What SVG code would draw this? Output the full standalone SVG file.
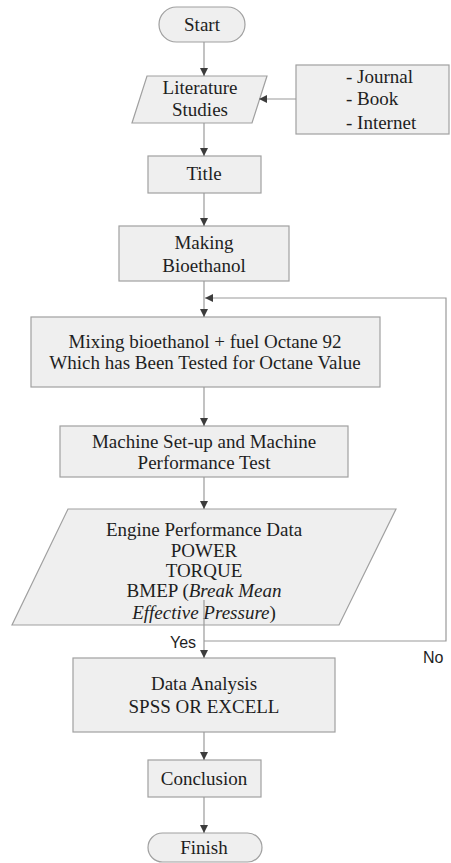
<svg xmlns="http://www.w3.org/2000/svg" width="451" height="863" viewBox="0 0 451 863">
<defs>
<style>
.n{fill:#efefef;stroke:#a0a0a0;stroke-width:1.2}
.t{font-family:"Liberation Serif","Times New Roman",serif;font-size:19px;fill:#1e1e1e;text-anchor:middle}
.l{font-family:"Liberation Sans",Arial,sans-serif;font-size:16px;fill:#1e1e1e}
.c{fill:none;stroke:#9a9a9a;stroke-width:1.2}
</style>
<marker id="ah" viewBox="0 0 10 10" refX="10" refY="5" markerWidth="8" markerHeight="8" markerUnits="userSpaceOnUse" orient="auto">
<path d="M0,0 L10,5 L0,10 Z" fill="#3c3c3c"/>
</marker>
</defs>
<rect width="451" height="863" fill="#ffffff"/>
<g id="start"><rect class="n" x="159" y="7" width="86" height="35" rx="17.5"/><text class="t" x="202" y="31">Start</text></g>
<g id="literature"><polygon class="n" points="147,76 267,76 252,123 132,123"/><text class="t" x="200" y="94">Literature</text><text class="t" x="200" y="116">Studies</text></g>
<g id="sources"><rect class="n" x="296" y="65" width="153" height="69"/><text class="t" x="346" y="83" style="text-anchor:start">- Journal</text><text class="t" x="346" y="105" style="text-anchor:start">- Book</text><text class="t" x="346" y="129" style="text-anchor:start">- Internet</text></g>
<g id="title"><rect class="n" x="148" y="156" width="113" height="37"/><text class="t" x="204" y="180">Title</text></g>
<g id="making"><rect class="n" x="119" y="226" width="170" height="55"/><text class="t" x="204" y="249">Making</text><text class="t" x="204" y="272">Bioethanol</text></g>
<g id="mixing"><rect class="n" x="31" y="317" width="349" height="70"/><text class="t" x="205" y="348">Mixing bioethanol + fuel Octane 92</text><text class="t" x="205" y="369">Which has Been Tested for Octane Value</text></g>
<g id="machine"><rect class="n" x="60" y="426" width="288" height="51"/><text class="t" x="204" y="448">Machine Set-up and Machine</text><text class="t" x="204" y="469">Performance Test</text></g>
<g id="engine"><polygon class="n" points="68,509 396,509 339,625 12,625"/><text class="t" x="204" y="536">Engine Performance Data</text><text class="t" x="204" y="557">POWER</text><text class="t" x="204" y="577">TORQUE</text><text class="t" x="204" y="597">BMEP (<tspan font-style="italic">Break Mean</tspan></text><text class="t" x="204" y="619"><tspan font-style="italic">Effective Pressure</tspan>)</text></g>
<g id="analysis"><rect class="n" x="73" y="658" width="262" height="74"/><text class="t" x="204" y="690">Data Analysis</text><text class="t" x="204" y="713">SPSS OR EXCELL</text></g>
<g id="conclusion"><rect class="n" x="148" y="760" width="113" height="37"/><text class="t" x="204" y="785">Conclusion</text></g>
<g id="finish"><rect class="n" x="148" y="833" width="114" height="29" rx="14.5"/><text class="t" x="204" y="854">Finish</text></g>
<g id="connectors">
<line class="c" x1="204" y1="42" x2="204" y2="76" marker-end="url(#ah)"/>
<line class="c" x1="296" y1="99" x2="259" y2="99" marker-end="url(#ah)"/>
<line class="c" x1="204" y1="123" x2="204" y2="156" marker-end="url(#ah)"/>
<line class="c" x1="204" y1="193" x2="204" y2="226" marker-end="url(#ah)"/>
<line class="c" x1="204" y1="281" x2="204" y2="317" marker-end="url(#ah)"/>
<line class="c" x1="204" y1="387" x2="204" y2="426" marker-end="url(#ah)"/>
<line class="c" x1="204" y1="477" x2="204" y2="509" marker-end="url(#ah)"/>
<line class="c" x1="204" y1="600" x2="204" y2="658" marker-end="url(#ah)"/>
<polyline class="c" points="204,641 446,641 446,298 205,298" marker-end="url(#ah)"/>
<line class="c" x1="204" y1="732" x2="204" y2="760" marker-end="url(#ah)"/>
<line class="c" x1="204" y1="797" x2="204" y2="833" marker-end="url(#ah)"/>
<text class="l" x="170" y="648">Yes</text>
<text class="l" x="423" y="663">No</text>
</g>
</svg>
